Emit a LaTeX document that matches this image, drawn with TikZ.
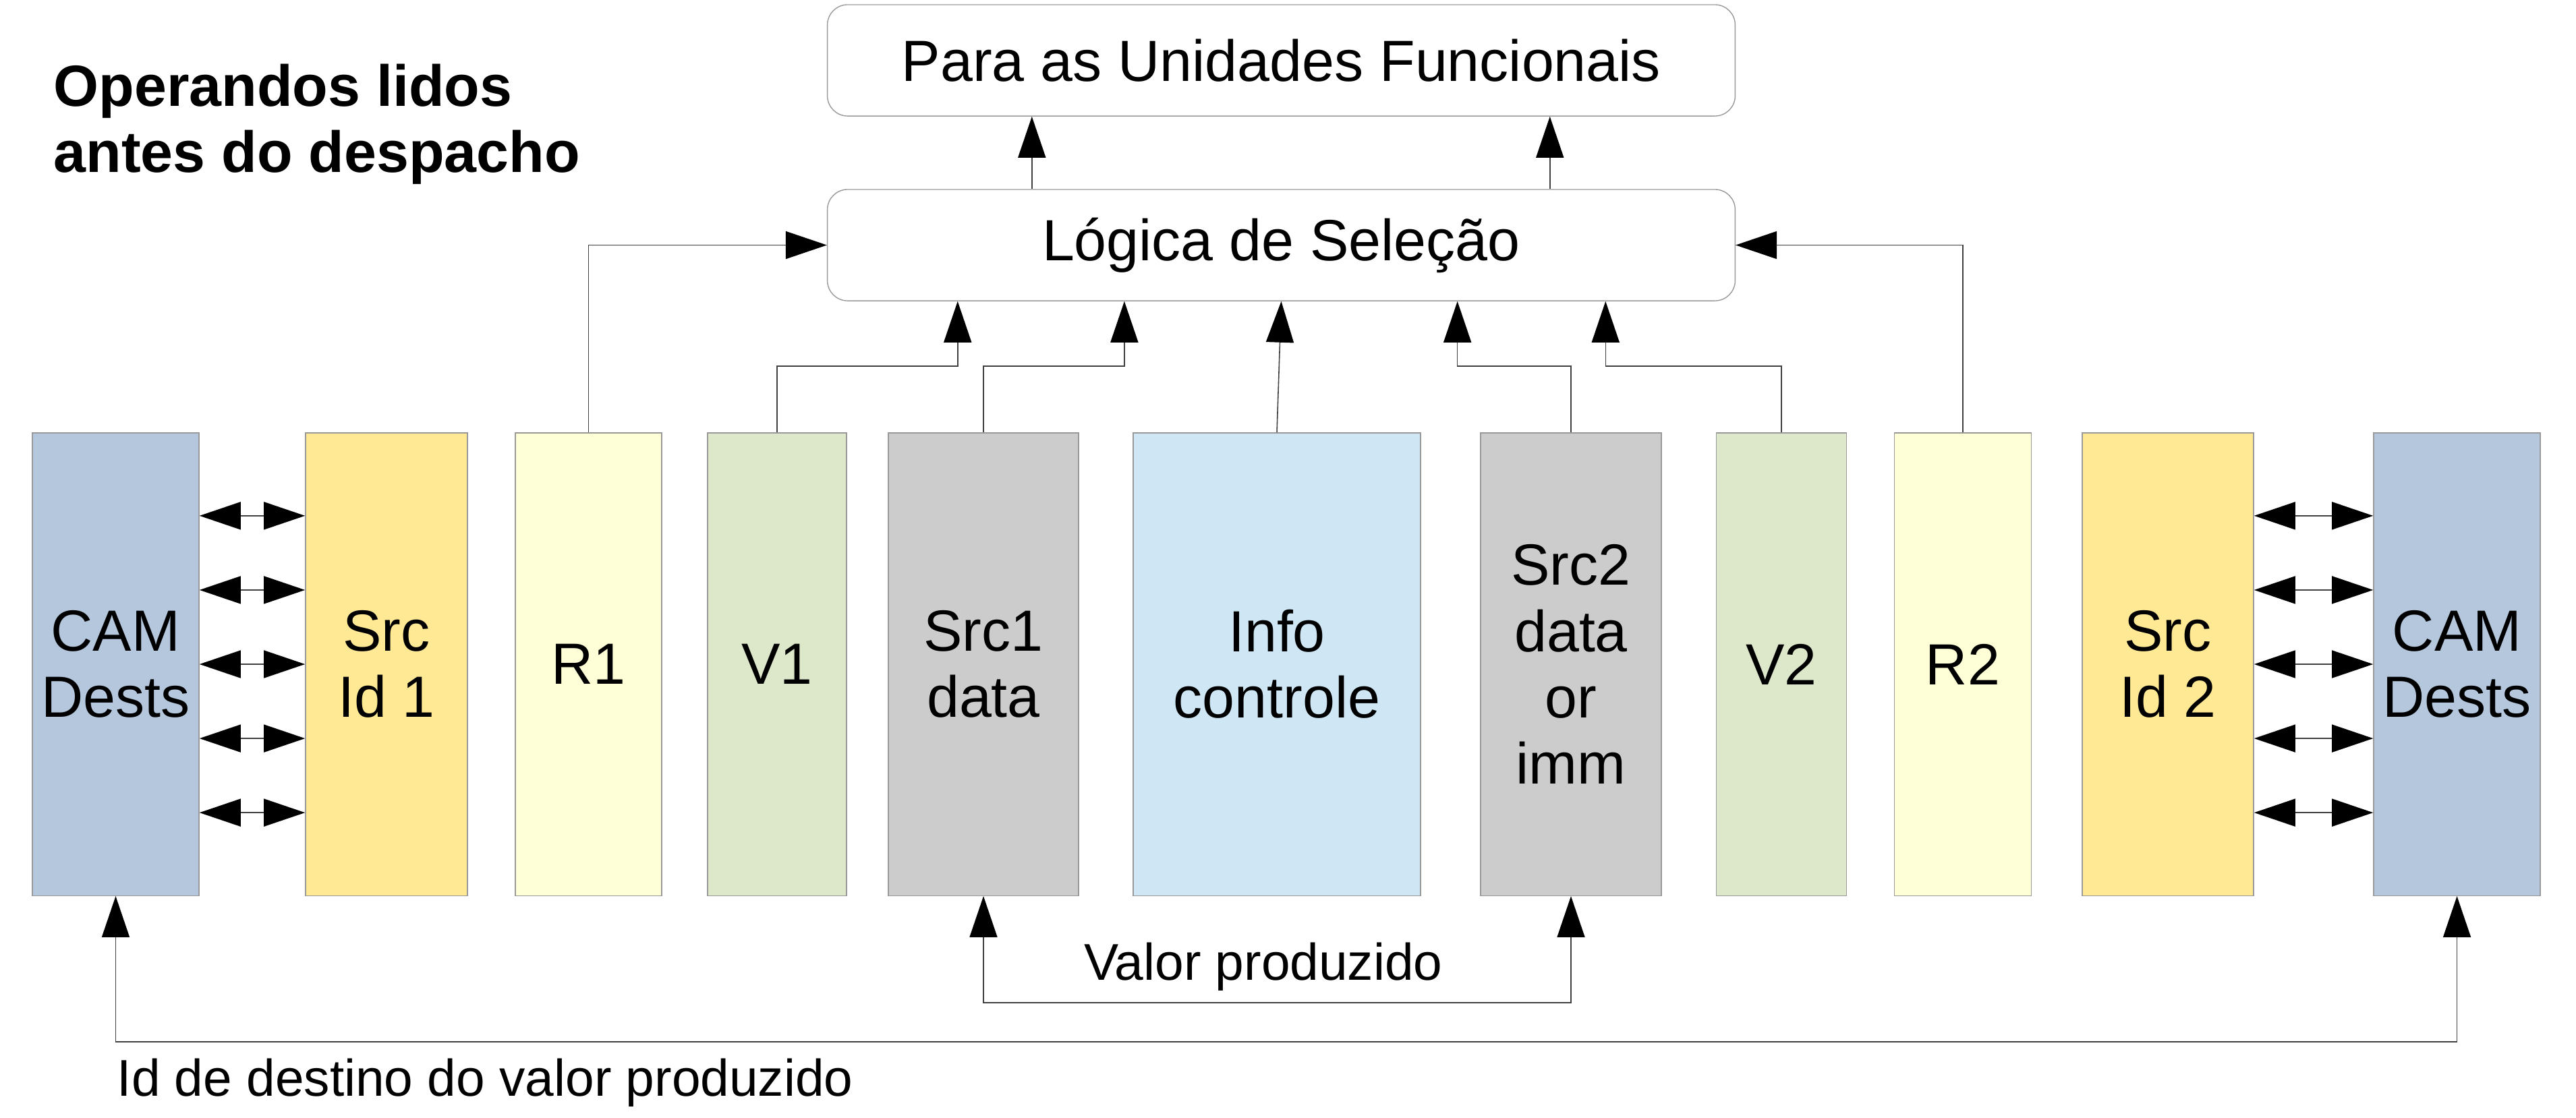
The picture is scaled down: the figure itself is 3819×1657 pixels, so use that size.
\documentclass[tikz,border=0pt]{standalone}
\usepackage{fontspec}
\setmainfont{Liberation Sans}
\usetikzlibrary{arrows.meta}

\definecolor{camcor}{HTML}{B4C7DC}
\definecolor{idcor}{HTML}{FFE994}
\definecolor{rcor}{HTML}{FFFFD7}
\definecolor{vcor}{HTML}{DDE8CB}
\definecolor{dadocor}{HTML}{CCCCCC}
\definecolor{infocor}{HTML}{CFE7F5}
\definecolor{bordacor}{HTML}{999999}

\newcommand\campofonte{\fontsize{24.5}{27.9}\selectfont}
\newcommand\rotulofonte{\fontsize{21.8}{26}\selectfont}
\newcommand\titulofonte{\fontsize{24.5}{27.9}\selectfont\bfseries}

\tikzset{
    campo/.style={draw=bordacor, line width=0.4pt, minimum height=6.86cm, align=center, inner sep=0pt, font=\campofonte},
    bloco/.style={draw=bordacor, line width=0.4pt, rounded corners=0.3cm, minimum width=13.45cm, minimum height=1.65cm, inner sep=0pt, font=\campofonte},
    ponta/.tip={Triangle[length=0.61cm,width=0.41cm,color=black]},
    seta/.style={draw=black!75, line width=0.45pt, -ponta},
    dupla/.style={draw=black!75, line width=0.45pt, ponta-ponta},
    rotulo/.style={inner sep=0pt, font=\rotulofonte}
}

\begin{document}
\begin{tikzpicture}[x=0.01cm, y=-0.01cm]
            \useasboundingbox (0,0) rectangle (3819,1657);

            \node[inner sep=0pt, anchor=west, align=left, font=\titulofonte] (titulo) at (79,184.5) {Operandos lidos\\antes do despacho};

            \node[bloco] (para) at (1899.5,89.5) {Para as Unidades Funcionais};
            \node[bloco] (sel) at (1899.5,363.5) {Lógica de Seleção};

            \node[campo, fill=camcor, minimum width=2.47cm] (cam1) at (171.5,985) {CAM\\Dests};
            \node[campo, fill=idcor, minimum width=2.40cm] (sid1) at (573,985) {Src\\Id 1};
            \node[campo, fill=rcor, minimum width=2.17cm] (r1) at (872.5,985) {R1};
            \node[campo, fill=vcor, minimum width=2.06cm] (v1) at (1152,985) {V1};
            \node[campo, fill=dadocor, minimum width=2.82cm] (sd1) at (1458,985) {Src1\\data};
            \node[campo, fill=infocor, minimum width=4.26cm] (info) at (1893,985) {Info\\controle};
            \node[campo, fill=dadocor, minimum width=2.68cm] (sd2) at (2329,985) {Src2\\data\\or\\imm};
            \node[campo, fill=vcor, minimum width=1.93cm] (v2) at (2641,985) {V2};
            \node[campo, fill=rcor, minimum width=2.03cm] (r2) at (2910,985) {R2};
            \node[campo, fill=idcor, minimum width=2.54cm] (sid2) at (3214,985) {Src\\Id 2};
            \node[campo, fill=camcor, minimum width=2.47cm] (cam2) at (3642.5,985) {CAM\\Dests};

            \draw[seta] ([xshift=-3.695cm]sel.north) -- ([xshift=-3.695cm]para.south);
            \draw[seta] ([xshift=3.98cm]sel.north) -- ([xshift=3.98cm]para.south);

            \draw[seta] (r1.north) |- (sel.west);
            \draw[seta] (r2.north) |- (sel.east);
            \draw[seta] (v1.north) -- ++(0,-98) -| ([xshift=-4.795cm]sel.south);
            \draw[seta] (sd1.north) -- ++(0,-98) -| ([xshift=-2.325cm]sel.south);
            \draw[seta] (info.north) -- (sel.south);
            \draw[seta] (sd2.north) -- ++(0,-98) -| ([xshift=2.61cm]sel.south);
            \draw[seta] (v2.north) -- ++(0,-98) -| ([xshift=4.805cm]sel.south);

            \foreach \dy in {-2.2,-1.1,0,1.1,2.2} {
                \draw[dupla] ([yshift=\dy cm]cam1.east) -- ([yshift=\dy cm]sid1.west);
                \draw[dupla] ([yshift=\dy cm]sid2.east) -- ([yshift=\dy cm]cam2.west);
            }

            \draw[dupla] (sd1.south) -- ++(0,158) -| (sd2.south);
            \node[rotulo, anchor=base] (valor) at (1873,1453) {Valor produzido};

            \draw[dupla] (cam1.south) -- ++(0,216) -| (cam2.south);
            \node[rotulo, anchor=base west] (destino) at (173,1625) {Id de destino do valor produzido};
\end{tikzpicture}
\end{document}
